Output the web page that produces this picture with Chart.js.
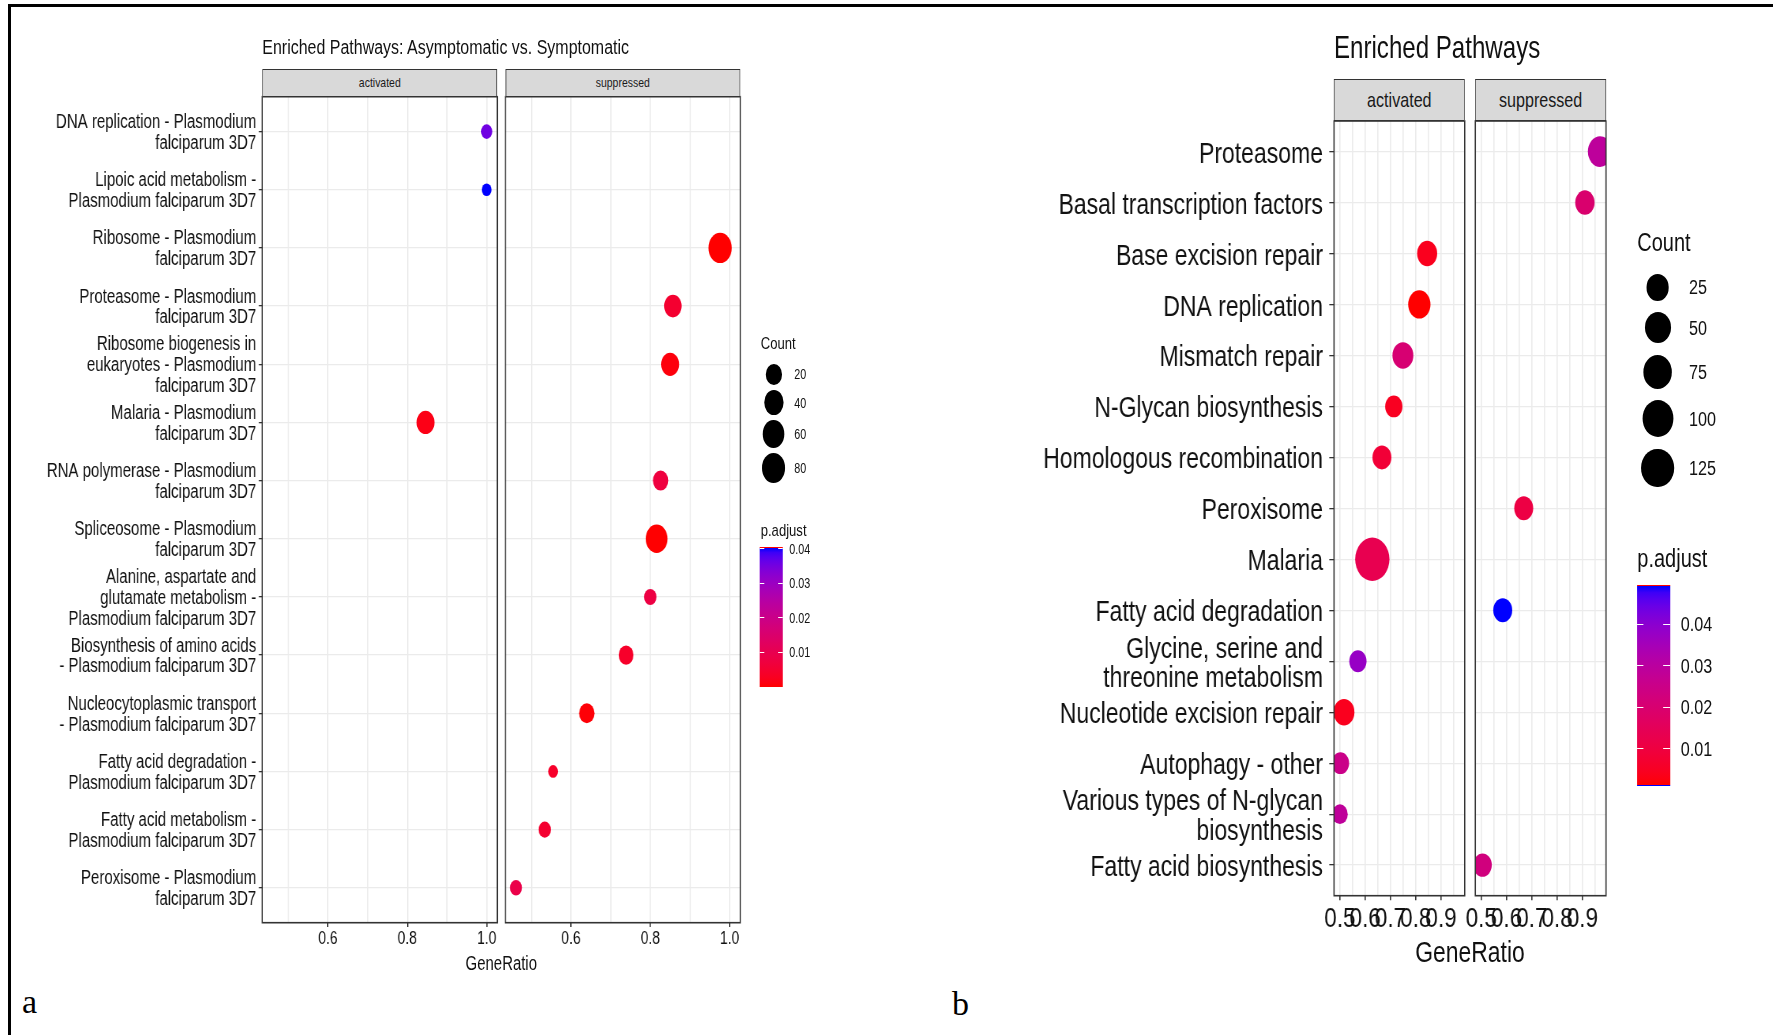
<!DOCTYPE html>
<html lang="en">
<head>
<meta charset="utf-8">
<title>Enriched Pathways</title>
<script src="https://cdn.jsdelivr.net/npm/chart.js@4.4.1/dist/chart.umd.min.js"></script>
<style>
  html, body { margin: 0; padding: 0; background: #fff; }
  #fig { position: relative; width: 1773px; height: 1035px; overflow: hidden; background: #fff;
         font-family: "Liberation Sans", Arial, Helvetica, sans-serif; }
  .frame { position: absolute; background: #000; }
  .panel { position: absolute; top: 0; width: 1200px; height: 1035px; transform-origin: 0 0; }
  .panel canvas { position: absolute; top: 0; }
  .txt { position: absolute; white-space: nowrap; line-height: 1; color: #111; }
  .strip { position: absolute; box-sizing: border-box; background: #d9d9d9; border: 1.3px solid #333;
           display: flex; align-items: center; justify-content: center; color: #1a1a1a; line-height: 1; }
  .key { position: absolute; background: #000; border-radius: 50%; }
  .bar { position: absolute; box-sizing: border-box; }
  .dash { position: absolute; background: #fff; height: 1.2px; }
  .tag { position: absolute; font-family: "Liberation Serif", "Times New Roman", serif; line-height: 1; color: #000; }
</style>
</head>
<body>
<div id="fig">
  <div class="frame" style="left:8px;top:4px;width:1765px;height:2.5px"></div>
  <div class="frame" style="left:8px;top:4px;width:2.5px;height:1031px"></div>
  <div class="tag" style="left:22px;top:985px;font-size:34px">a</div>
  <div class="tag" style="left:952px;top:987px;font-size:34px">b</div>
</div>
<script>
const FONT = '"Liberation Sans", Arial, Helvetica, sans-serif';
const facets = ['activated', 'suppressed'];

// a: asymptomatic vs. symptomatic, P. falciparum 3D7 KEGG terms
const pathwaysA = [
  'DNA replication - Plasmodium\nfalciparum 3D7',
  'Lipoic acid metabolism -\nPlasmodium falciparum 3D7',
  'Ribosome - Plasmodium\nfalciparum 3D7',
  'Proteasome - Plasmodium\nfalciparum 3D7',
  'Ribosome biogenesis in\neukaryotes - Plasmodium\nfalciparum 3D7',
  'Malaria - Plasmodium\nfalciparum 3D7',
  'RNA polymerase - Plasmodium\nfalciparum 3D7',
  'Spliceosome - Plasmodium\nfalciparum 3D7',
  'Alanine, aspartate and\nglutamate metabolism -\nPlasmodium falciparum 3D7',
  'Biosynthesis of amino acids\n- Plasmodium falciparum 3D7',
  'Nucleocytoplasmic transport\n- Plasmodium falciparum 3D7',
  'Fatty acid degradation -\nPlasmodium falciparum 3D7',
  'Fatty acid metabolism -\nPlasmodium falciparum 3D7',
  'Peroxisome - Plasmodium\nfalciparum 3D7'
];
const groupA = ['activated', 'activated', 'suppressed', 'suppressed', 'suppressed', 'activated', 'suppressed',
                'suppressed', 'suppressed', 'suppressed', 'suppressed', 'suppressed', 'suppressed', 'suppressed'];
const geneRatioA = [1.0, 1.0, 0.976, 0.857, 0.85, 0.846, 0.826, 0.816, 0.80, 0.739, 0.64, 0.555, 0.534, 0.4615];
const countA = [4, 3, 84, 29, 32, 32, 17, 67, 6, 14, 17, 3, 6, 5];
const padjA = [0.0357, 0.0405, 0.00002, 0.005, 0.0008, 0.0016, 0.0073, 0.0001, 0.008, 0.004, 0.0005, 0.004, 0.005, 0.009];
const xMajorA = [0.6, 0.8, 1.0];
const xMinorA = [0.5, 0.7, 0.9];
const countBreaksA = [20, 40, 60, 80];
const padjBreaksA = [0.01, 0.02, 0.03, 0.04];

// b: enriched pathways
const pathwaysB = [
  'Proteasome', 'Basal transcription factors', 'Base excision repair', 'DNA replication', 'Mismatch repair',
  'N-Glycan biosynthesis', 'Homologous recombination', 'Peroxisome', 'Malaria', 'Fatty acid degradation',
  'Glycine, serine and\nthreonine metabolism', 'Nucleotide excision repair', 'Autophagy - other',
  'Various types of N-glycan\nbiosynthesis', 'Fatty acid biosynthesis'
];
const groupB = ['suppressed', 'suppressed', 'activated', 'activated', 'activated', 'activated', 'activated', 'suppressed',
                'activated', 'suppressed', 'activated', 'activated', 'activated', 'activated', 'suppressed'];
const geneRatioB = [0.97, 0.91, 0.845, 0.814, 0.749, 0.713, 0.666, 0.668, 0.628, 0.585, 0.571, 0.516, 0.502, 0.50, 0.505];
const countB = [29, 7, 9, 18, 12, 3, 6, 6, 126, 6, 3, 12, 3, 2, 5];
const padjB = [0.0292, 0.0195, 0.004, 0.00105, 0.0205, 0.0045, 0.0083, 0.0108, 0.0132, 0.0496, 0.038, 0.004, 0.0253, 0.029, 0.0229];
const xMajorB = [0.5, 0.6, 0.7, 0.8, 0.9];
const xMinorB = [0.55, 0.65, 0.75, 0.85, 0.95];
const countBreaksB = [25, 50, 75, 100, 125];
const padjBreaksB = [0.01, 0.02, 0.03, 0.04];

// red -> blue gradient interpolated in CIE Lab
function toLab(hex) {
  const v = [1, 3, 5].map(i => parseInt(hex.slice(i, i + 2), 16) / 255)
    .map(c => c <= 0.04045 ? c / 12.92 : Math.pow((c + 0.055) / 1.055, 2.4));
  const X = (0.4124564 * v[0] + 0.3575761 * v[1] + 0.1804375 * v[2]) / 0.95047;
  const Y = 0.2126729 * v[0] + 0.7151522 * v[1] + 0.0721750 * v[2];
  const Z = (0.0193339 * v[0] + 0.1191920 * v[1] + 0.9503041 * v[2]) / 1.08883;
  const f = t => t > 0.008856 ? Math.cbrt(t) : 7.787 * t + 16 / 116;
  return [116 * f(Y) - 16, 500 * (f(X) - f(Y)), 200 * (f(Y) - f(Z))];
}
function fromLab([L, a, b]) {
  const fy = (L + 16) / 116, fx = fy + a / 500, fz = fy - b / 200;
  const g = t => t > 0.206893 ? t * t * t : (t - 16 / 116) / 7.787;
  const X = 0.95047 * g(fx), Y = g(fy), Z = 1.08883 * g(fz);
  const lin = [
    3.2404542 * X - 1.5371385 * Y - 0.4985314 * Z,
    -0.9692660 * X + 1.8760108 * Y + 0.0415560 * Z,
    0.0556434 * X - 0.2040259 * Y + 1.0572252 * Z
  ];
  return 'rgb(' + lin.map(c => {
    c = Math.min(1, Math.max(0, c));
    c = c <= 0.0031308 ? 12.92 * c : 1.055 * Math.pow(c, 1 / 2.4) - 0.055;
    return Math.round(c * 255);
  }).join(',') + ')';
}
const LOW = toLab('#FF0000'), HIGH = toLab('#0000FF');
function padjColour(p, lo, hi) {
  const t = Math.min(1, Math.max(0, (p - lo) / (hi - lo)));
  return fromLab(LOW.map((v, k) => v + (HIGH[k] - v) * t));
}

// area-style size scale: sqrt of count rescaled into a diameter range
function dotDiameter(c, counts, range) {
  const lo = Math.min(...counts), hi = Math.max(...counts);
  return range[0] + (range[1] - range[0]) * Math.sqrt((c - lo) / (hi - lo));
}

const panelBorder = {
  id: 'panelBorder',
  afterDraw(chart) {
    const { ctx, chartArea: a } = chart;
    ctx.save();
    ctx.strokeStyle = '#333333';
    ctx.lineWidth = 1.6;
    ctx.strokeRect(a.left, a.top, a.right - a.left, a.bottom - a.top);
    ctx.restore();
  }
};

function addText(parent, str, x, y, size, center) {
  const el = document.createElement('div');
  el.className = 'txt';
  el.textContent = str;
  el.style.fontSize = size + 'px';
  el.style.left = x + 'px';
  el.style.top = (y - 0.4885 * size) + 'px';
  if (center) el.style.transform = 'translateX(-50%)';
  parent.appendChild(el);
  return el;
}

const panels = [
  {
    left: 12, squeeze: 0.77,
    title: 'Enriched Pathways: Asymptomatic vs. Symptomatic',
    pathways: pathwaysA, group: groupA, ratio: geneRatioA, count: countA, padj: padjA,
    xMajor: xMajorA, xMinor: xMinorA, countBreaks: countBreaksA, padjBreaks: padjBreaksA,
    facetX: [[262.3, 497.3], [505.3, 740.3]],
    titleY: 47.5, stripY: [69, 96.7], plotY: [96.7, 922.7], xTitleY: 963.3, canvasH: 1000,
    dotRange: [12.7, 30.3],
    fs: { title: 20.75, strip: 13.6, y: 19.5, yLine: '20.9px', xTick: 18, xTitle: 19.4, legTitle: 17, legText: 14 },
    yTick: { len: 4.4, pad: 3.5, offset: 1.5 }, xTick: { len: 4.4, pad: 2.5 },
    legend: { x: 760.7, countY: 343.3, keyX: 773.7, keyTop: 363.9, keyGap: 5.4, keyW: 1, keyH: 1, labelX: 794.3,
              padjY: 530.5, bar: [760, 547, 782.7, 686.7], barLabelX: 789.3, blueEdge: false }
  },
  {
    left: 900, squeeze: 0.79,
    title: 'Enriched Pathways',
    pathways: pathwaysB, group: groupB, ratio: geneRatioB, count: countB, padj: padjB,
    xMajor: xMajorB, xMinor: xMinorB, countBreaks: countBreaksB, padjBreaks: padjBreaksB,
    facetX: [[1334, 1464.7], [1475.3, 1606]],
    titleY: 46.5, stripY: [79.2, 121], plotY: [121, 895.7], xTitleY: 952.5, canvasH: 1000,
    dotRange: [19.75, 43.4],
    fs: { title: 30.5, strip: 20.4, y: 29.1, yLine: '29.4px', xTick: 28.5, xTitle: 29, legTitle: 25.3, legText: 20.5 },
    yTick: { len: 6, pad: 8, offset: 3 }, xTick: { len: 4.5, pad: 4.5 },
    legend: { x: 1637.3, countY: 242, keyX: 1657.7, keyTop: 273.75, keyGap: 11.5, keyW: 0.96, keyH: 0.9, labelX: 1689,
              padjY: 558.6, bar: [1636.7, 584.6, 1670, 786], barLabelX: 1680.7, blueEdge: true }
  }
];

function buildPanel(p) {
  const fig = document.getElementById('fig');
  const wrap = document.createElement('div');
  wrap.className = 'panel';
  wrap.style.left = p.left + 'px';
  wrap.style.transform = 'scaleX(' + p.squeeze + ')';
  fig.appendChild(wrap);
  const ux = xf => (xf - p.left) / p.squeeze;

  const lo = Math.min(...p.padj), hi = Math.max(...p.padj);
  const rMin = Math.min(...p.ratio), rMax = Math.max(...p.ratio);
  const expand = (rMax - rMin) * 0.05;
  const xTicks = p.xMajor.map(v => ({ value: v, isMajor: true }))
    .concat(p.xMinor.map(v => ({ value: v, isMajor: false })))
    .sort((a, b) => a.value - b.value);
  const n = p.pathways.length;

  facets.forEach((facet, i) => {
    const x0 = ux(p.facetX[i][0]), x1 = ux(p.facetX[i][1]);
    const cLeft = i === 0 ? 0 : Math.floor(x0) - 20;
    const cWidth = Math.ceil(x1 - cLeft) + 20;
    const canvas = document.createElement('canvas');
    canvas.width = cWidth;
    canvas.height = p.canvasH;
    canvas.style.left = cLeft + 'px';
    wrap.appendChild(canvas);

    const idx = p.group.map((g, k) => g === facet ? k : -1).filter(k => k >= 0);

    new Chart(canvas, {
      type: 'bubble',
      data: {
        datasets: [{
          data: idx.map(k => ({ x: p.ratio[k], y: k + 1, r: dotDiameter(p.count[k], p.count, p.dotRange) / 2 })),
          backgroundColor: idx.map(k => padjColour(p.padj[k], lo, hi)),
          borderWidth: 0,
          hoverRadius: 0,
          clip: 0
        }]
      },
      options: {
        responsive: false,
        animation: false,
        events: [],
        layout: {
          autoPadding: false,
          padding: { top: p.plotY[0], bottom: 0, left: i === 0 ? 0 : x0 - cLeft, right: cWidth - (x1 - cLeft) }
        },
        plugins: { legend: { display: false }, tooltip: { enabled: false } },
        scales: {
          x: {
            type: 'linear',
            min: rMin - expand,
            max: rMax + expand,
            afterBuildTicks: s => { s.ticks = xTicks.map(t => ({ value: t.value, isMajor: t.isMajor })); },
            afterFit: s => { s.height = p.canvasH - p.plotY[1]; },
            ticks: {
              autoSkip: false, maxRotation: 0, minRotation: 0,
              padding: p.xTick.pad, color: '#111',
              font: { family: FONT, size: p.fs.xTick, lineHeight: 1 },
              callback: (v, k, ticks) => ticks[k].isMajor ? v.toFixed(1) : ''
            },
            grid: {
              color: '#EBEBEB',
              lineWidth: 1.6,
              tickColor: ctx => (ctx.tick && ctx.tick.isMajor) ? '#333333' : 'rgba(0,0,0,0)',
              tickLength: p.xTick.len,
              drawTicks: true
            },
            border: { display: false }
          },
          y: {
            type: 'linear',
            reverse: true,
            min: 0.4,
            max: n + 0.6,
            afterBuildTicks: s => { s.ticks = p.pathways.map((_, k) => ({ value: k + 1 })); },
            afterFit: s => { s.width = i === 0 ? x0 : 0; },
            ticks: {
              display: i === 0, autoSkip: false,
              padding: p.yTick.pad, labelOffset: p.yTick.offset, color: '#111',
              font: { family: FONT, size: p.fs.y, lineHeight: p.fs.yLine },
              callback: v => p.pathways[Math.round(v) - 1].split('\n')
            },
            grid: {
              color: '#EBEBEB',
              lineWidth: 1.3,
              tickColor: '#333333',
              tickLength: p.yTick.len,
              drawTicks: i === 0
            },
            border: { display: false }
          }
        }
      },
      plugins: [panelBorder]
    });

    const strip = document.createElement('div');
    strip.className = 'strip';
    Object.assign(strip.style, {
      left: x0 + 'px', width: (x1 - x0) + 'px',
      top: p.stripY[0] + 'px', height: (p.stripY[1] - p.stripY[0]) + 'px',
      fontSize: p.fs.strip + 'px'
    });
    strip.textContent = facet;
    wrap.appendChild(strip);
  });

  addText(wrap, p.title, ux(p.facetX[0][0]), p.titleY, p.fs.title);
  addText(wrap, 'GeneRatio', ux((p.facetX[0][0] + p.facetX[1][1]) / 2), p.xTitleY, p.fs.xTitle, true);

  // size legend
  const L = p.legend;
  addText(wrap, 'Count', ux(L.x), L.countY, p.fs.legTitle);
  let y = L.keyTop;
  p.countBreaks.forEach(c => {
    const d = dotDiameter(c, p.count, p.dotRange);
    const w = d * L.keyW, h = d * L.keyH;
    const key = document.createElement('div');
    key.className = 'key';
    Object.assign(key.style, { left: (ux(L.keyX) - w / 2) + 'px', top: y + 'px', width: w + 'px', height: h + 'px' });
    wrap.appendChild(key);
    addText(wrap, String(c), ux(L.labelX), y + h / 2, p.fs.legText);
    y += h + L.keyGap;
  });

  // colour bar
  addText(wrap, 'p.adjust', ux(L.x), L.padjY, p.fs.legTitle);
  const [bx0, by0, bx1, by1] = L.bar;
  const bw = ux(bx1) - ux(bx0);
  const stops = [];
  for (let s = 0; s <= 30; s++) {
    stops.push(padjColour(lo + (hi - lo) * s / 30, lo, hi) + ' ' + (s / 30 * 100).toFixed(2) + '%');
  }
  const bar = document.createElement('div');
  bar.className = 'bar';
  Object.assign(bar.style, {
    left: ux(bx0) + 'px', top: by0 + 'px', width: bw + 'px', height: (by1 - by0) + 'px',
    background: 'linear-gradient(to top, ' + stops.join(', ') + ')',
    borderTop: '1px solid #ff0000',
    borderBottom: L.blueEdge ? '1px solid #0000ff' : 'none'
  });
  wrap.appendChild(bar);
  p.padjBreaks.forEach(v => {
    const ty = by1 - (v - lo) / (hi - lo) * (by1 - by0);
    [0, bw * 0.8].forEach(dx => {
      const dash = document.createElement('div');
      dash.className = 'dash';
      Object.assign(dash.style, { left: (ux(bx0) + dx) + 'px', top: (ty - 0.6) + 'px', width: (bw * 0.2) + 'px' });
      wrap.appendChild(dash);
    });
    addText(wrap, v.toFixed(2), ux(L.barLabelX), ty, p.fs.legText);
  });
}

panels.forEach(buildPanel);
</script>
</body>
</html>
